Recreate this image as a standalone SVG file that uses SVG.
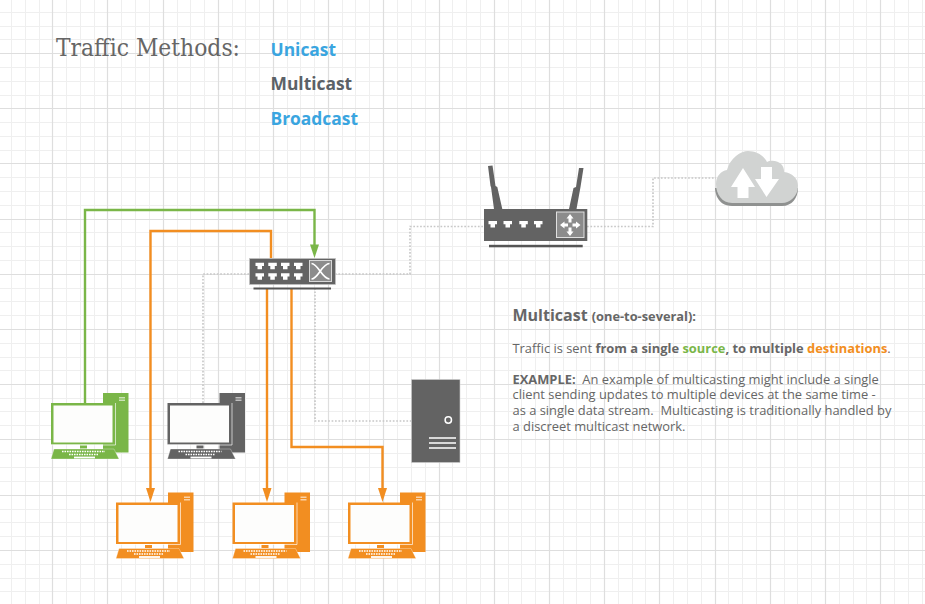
<svg xmlns="http://www.w3.org/2000/svg" width="925" height="604" viewBox="0 0 925 604">
<style>
.t{font-family:"Open Sans","Noto Sans",sans-serif;fill:#666}
.b{font-weight:700}
.m{font-family:"Open Sans","Noto Sans",sans-serif;font-weight:700;font-size:17.4px}
.dot{fill:none;stroke:#c8c8c8;stroke-width:1.7;stroke-dasharray:1.7 1.7}
.gl{fill:none;stroke:#7ab648;stroke-width:2.4}
.ol{fill:none;stroke:#f28e21;stroke-width:2.4}
.gmin{fill:none;stroke:#efefef;stroke-width:1}
.gmaj{fill:none;stroke:#dedede;stroke-width:1.2}
</style>
<defs>
<g id="pc">
<rect x="52" y="0" width="25.500" height="59.500" fill="currentColor"/>
<rect x="68" y="4" width="6" height="1.500" fill="#fff" fill-opacity=".6"/><rect x="68" y="6.500" width="6" height="1.500" fill="#fff" fill-opacity=".6"/>
<rect x="0" y="10" width="64" height="41.500" fill="currentColor"/>
<path d="M64.500 10V52H0" fill="none" stroke="#fff" stroke-opacity=".65" stroke-width="1"/>
<rect x="2.500" y="12.500" width="59" height="37" fill="#fdfdfc"/>
<rect x="29" y="52.500" width="7" height="3" fill="currentColor"/>
<path d="M3 56H63L68 66H0Z" fill="currentColor" stroke="#fff" stroke-opacity=".5" stroke-width=".6"/>
<path d="M11 58.500H54M18 61.500H47" stroke="#fff" stroke-width="1.500" stroke-dasharray="1.600 .9" fill="none"/>
<rect x="23" y="63.600" width="21" height="1.800" fill="#fff"/>
</g>
<path id="port" d="M0 0H8.500V3.300H6.500V6.500H2V3.300H0Z" fill="#fff"/>
</defs>
<rect width="925" height="604" fill="#fff"/>
<g id="grid">
<path class="gmin" d="M11.500 0V604M25.500 0V604M39.500 0V604M66.500 0V604M80.500 0V604M94.500 0V604M121.500 0V604M135.500 0V604M149.500 0V604M177.500 0V604M190.500 0V604M204.500 0V604M232.500 0V604M245.500 0V604M259.500 0V604M287.500 0V604M300.500 0V604M314.500 0V604M342.500 0V604M355.500 0V604M369.500 0V604M397.500 0V604M411.500 0V604M425.500 0V604M452.500 0V604M466.500 0V604M480.500 0V604M508.500 0V604M521.500 0V604M535.500 0V604M563.500 0V604M576.500 0V604M590.500 0V604M618.500 0V604M632.500 0V604M645.500 0V604M673.500 0V604M687.500 0V604M701.500 0V604M728.500 0V604M742.500 0V604M756.500 0V604M784.500 0V604M797.500 0V604M811.500 0V604M839.500 0V604M853.500 0V604M866.500 0V604M894.500 0V604M908.500 0V604M922.500 0V604"/>
<path class="gmin" d="M0 12.500H925M0 26.500H925M0 39.500H925M0 67.500H925M0 81.500H925M0 95.500H925M0 122.500H925M0 136.500H925M0 150.500H925M0 177.500H925M0 191.500H925M0 205.500H925M0 232.500H925M0 246.500H925M0 260.500H925M0 288.500H925M0 301.500H925M0 315.500H925M0 343.500H925M0 357.500H925M0 370.500H925M0 398.500H925M0 411.500H925M0 425.500H925M0 453.500H925M0 467.500H925M0 481.500H925M0 509.500H925M0 522.500H925M0 536.500H925M0 564.500H925M0 578.500H925M0 591.500H925"/>
<path class="gmaj" d="M52.500 0V604M107.500 0V604M163.500 0V604M218.500 0V604M273.500 0V604M328.500 0V604M383.500 0V604M439.500 0V604M494.500 0V604M549.500 0V604M604.500 0V604M659.500 0V604M715.500 0V604M770.500 0V604M825.500 0V604M880.500 0V604"/>
<path class="gmaj" d="M0 53.500H925M0 108.500H925M0 163.500H925M0 219.500H925M0 274.500H925M0 329.500H925M0 384.500H925M0 439.500H925M0 495.500H925M0 550.500H925"/>
</g>

<g id="connectors">
<path class="dot" d="M203 403V274H250"/>
<path class="dot" d="M335 274H410V226.500H484"/>
<path class="dot" d="M315 288V421H411"/>
<path class="dot" d="M587 226.500H653V178H716"/>
<path class="gl" d="M85 403V210H314.500V245"/>
<path d="M310 244.500H319L314.500 258Z" fill="#7ab648"/>
<path class="ol" d="M271 258V231H150.500V489"/>
<path d="M146 488H155L150.500 502Z" fill="#f28e21"/>
<path class="ol" d="M267 288V489"/>
<path d="M262.500 488H271.500L267 502Z" fill="#f28e21"/>
<path class="ol" d="M291.500 288V447H382.500V489"/>
<path d="M378 488H387L382.500 502Z" fill="#f28e21"/>
</g>

<g id="title"><text x="56" y="56" font-family="'DejaVu Serif','Liberation Serif',serif" font-size="24" fill="#666" textLength="184" lengthAdjust="spacingAndGlyphs">Traffic Methods:</text></g>
<g id="methods">
<text class="m" x="270.500" y="56" fill="#3aa5e0">Unicast</text>
<text class="m" x="270.500" y="90" fill="#5b6167">Multicast</text>
<text class="m" x="270.500" y="125" fill="#3aa5e0">Broadcast</text>
</g>

<g id="switch">
<rect x="249.500" y="258.500" width="86" height="26" fill="#636363" stroke="#c4c4c4" stroke-width=".7"/>
<use href="#port" x="255.500" y="262.700"/><use href="#port" x="268.300" y="262.700"/><use href="#port" x="281" y="262.700"/><use href="#port" x="294" y="262.700"/>
<use href="#port" x="255.500" y="273.300"/><use href="#port" x="268.300" y="273.300"/><use href="#port" x="281" y="273.300"/><use href="#port" x="294" y="273.300"/>
<rect x="309.500" y="260.500" width="22" height="21" fill="#8c8c8c" stroke="#d8d8d8" stroke-width="1"/>
<path d="M311.500 263.500C318 263.500 322 279 329.500 279M311.500 279C318 279 322 263.500 329.500 263.500" fill="none" stroke="#fff" stroke-width="1.700"/>
<rect x="253.500" y="287.500" width="77.500" height="2" fill="#555"/>
</g>

<g id="router">
<path d="M488 166L492.500 165.500L495.500 186L497.300 187L502.300 209H494L491 187L490.500 186Z" fill="#636363"/>
<path d="M579 168H583.500L580.500 187L576.500 209H569L573.500 188L576 187Z" fill="#636363"/>
<rect x="484" y="209" width="103.300" height="32" fill="#636363"/>
<use href="#port" x="488.500" y="221"/><use href="#port" x="503.500" y="221"/><use href="#port" x="519.300" y="221"/><use href="#port" x="534" y="221"/>
<rect x="556.500" y="212" width="27.500" height="25.500" fill="#8c8c8c" stroke="#e0e0e0" stroke-width="1"/>
<path d="M570 214L573.500 218.500H571.500V222.500H568.500V218.500H566.500ZM570 236L573.500 231.500H571.500V227.500H568.500V231.500H566.500ZM560 225L564.500 221.500V223.500H568V226.500H564.500V228.500ZM580.500 225L576 221.500V223.500H572.500V226.500H576V228.500Z" fill="#fff"/>
<rect x="489" y="244.800" width="93.700" height="2.500" fill="#555"/>
</g>

<g id="cloud">
<path d="M715 188C715 190 716 206 732 206H782C792 206 798 198 798 188Z" fill="#8f9190"/>
<path d="M716 184C716 176 721 171 727 170C730 158 741 151 748 151C757 151 764 156 767 162C770 160 778 160 782 165C784 168 784 170 784 172C792 173 798 178 798 186C798 196 790 203 782 203H732C722 203 716 194 716 184Z" fill="#d1d3d2"/>
<path d="M743 168L755 187H748.500V198H737.500V187H731Z" fill="#fff"/>
<path d="M761 167H772V179H779L766.500 197L755 179H761Z" fill="#fff"/>
</g>

<g id="server">
<rect x="411.500" y="379.500" width="48.500" height="83" fill="#636363" stroke="#cfcfcf" stroke-width=".6"/>
<circle cx="448.300" cy="420" r="3.200" fill="none" stroke="#fff" stroke-width="1.500"/>
<path d="M429 438H456M429 443H456M429 448H456" stroke="#fff" stroke-width="1.500"/>
</g>

<g id="pc-source" color="#7ab648"><use href="#pc" x="51" y="393"/></g>
<g id="pc-idle" color="#636363"><use href="#pc" x="167.500" y="393"/></g>
<g id="pc-dest-1" color="#f28e21"><use href="#pc" x="116" y="492.500"/></g>
<g id="pc-dest-2" color="#f28e21"><use href="#pc" x="232.500" y="492.500"/></g>
<g id="pc-dest-3" color="#f28e21"><use href="#pc" x="348" y="492.500"/></g>

<g id="description">
<text class="t" x="512.500" y="321" font-size="16" font-weight="700">Multicast <tspan font-size="12.800">(one-to-several):</tspan></text>
<text class="t" x="512.500" y="353" font-size="12.900">Traffic is sent <tspan class="b">from a single </tspan><tspan class="b" fill="#7ab648">source</tspan><tspan class="b">, to multiple </tspan><tspan class="b" fill="#f28e21">destinations</tspan>.</text>
<text class="t" font-size="12.900" xml:space="preserve"><tspan x="512.500" y="384.300" class="b">EXAMPLE:</tspan><tspan>  An example of multicasting might include a single</tspan><tspan x="512.500" y="399.300">client sending updates to multiple devices at the same time -</tspan><tspan x="512.500" y="415.300">as a single data stream.  Multicasting is traditionally handled by</tspan><tspan x="512.500" y="431">a discreet multicast network.</tspan></text>
</g>
</svg>
